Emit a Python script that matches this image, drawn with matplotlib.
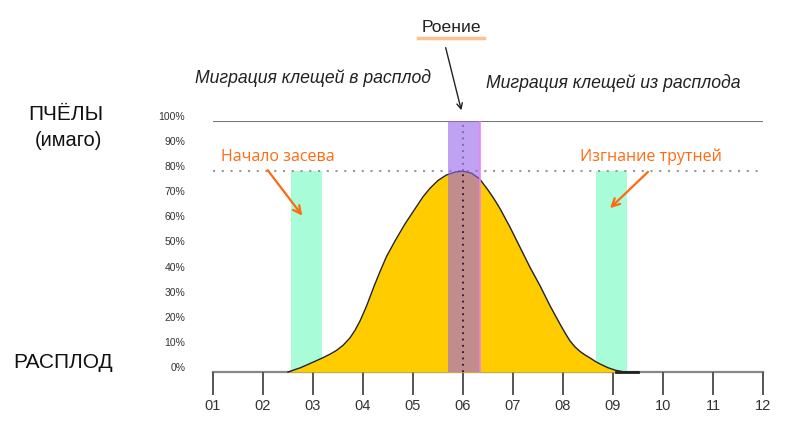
import matplotlib
matplotlib.use("Agg")
import matplotlib.pyplot as plt
import matplotlib.transforms as mtransforms
import numpy as np

# months on the x axis
months = list(range(1, 13))
month_labels = ["01", "02", "03", "04", "05", "06", "07", "08", "09", "10", "11", "12"]
pct_ticks = list(range(0, 101, 10))
pct_labels = [f"{p}%" for p in pct_ticks]

# brood curve
brood_x = [2.5, 2.75, 3.0, 3.2, 3.35, 3.47, 3.6, 3.74, 3.84, 3.94, 4.07, 4.21, 4.34, 4.47,
           4.64, 4.84, 5.04, 5.2, 5.34, 5.5, 5.67, 5.85, 6.0, 6.17, 6.33, 6.5, 6.62, 6.74,
           6.94, 7.14, 7.34, 7.54, 7.74, 7.94, 8.04, 8.14, 8.24, 8.34, 8.44, 8.54, 8.64,
           8.74, 8.9, 9.05, 9.23, 9.5]
brood_y = [0, 1.7, 3.9, 5.7, 7.2, 8.6, 10.6, 13.6, 16.6, 20.3, 26.2, 33.6, 40.0, 46.0,
           52.2, 59.0, 65.0, 69.8, 73.2, 76.3, 78.5, 79.7, 80.0, 79.2, 77.0, 72.5, 69.0, 65.1,
           57.7, 49.7, 41.7, 34.4, 26.4, 19.1, 15.6, 12.4, 10.0, 8.2, 6.8, 5.6, 4.3,
           3.2, 1.7, 0.7, 0, 0]

# highlighted periods (start month, end month)
green_periods = [(2.56, 3.18), (8.65, 9.27)]
green_height = 80
swarm_period = (5.69, 6.35)
swarm_height = 100
peak_level = 80

fig = plt.figure(figsize=(8, 4.43), dpi=100)
ax = fig.add_axes([213 / 800, 71 / 443, 550 / 800, 251 / 443])
ax.set_xlim(1, 12)
ax.set_ylim(0, 100)

for s, e in green_periods:
    ax.bar((s + e) / 2, green_height, width=e - s, color="#a8fcd8", zorder=1)

ax.fill_between(brood_x, brood_y, 0, color="#ffcc00", lw=0, zorder=2)
ax.plot(brood_x, brood_y, color="#222222", lw=1.0, zorder=3, clip_on=False,
        solid_joinstyle="round")
ax.plot([brood_x[-3], brood_x[-1]], [0, 0], color="#222222", lw=2, zorder=3, clip_on=False)

ax.axhline(100, color="#777777", lw=1.5, zorder=2)
ax.axhline(peak_level, color="#999999", lw=1.5, ls=(0, (1, 3.2)), zorder=2)

# swarming band
ax.plot([6, 6], [peak_level, 100], color="#555555", lw=1.3, ls=(0, (1, 2.5)), zorder=4)
ax.bar(sum(swarm_period) / 2, swarm_height, width=swarm_period[1] - swarm_period[0],
       color="#9664ea", alpha=0.6, lw=0, zorder=5)
ax.plot([swarm_period[1] - 0.02] * 2, [0, swarm_height], color="#f080f0", lw=1.5,
        alpha=0.8, zorder=5)
ax.plot([6, 6], [0, peak_level], color="#2a1040", lw=1.3, ls=(0, (1, 2.5)), zorder=6)

# axes styling
for side in ["left", "right", "top"]:
    ax.spines[side].set_visible(False)
ax.spines["bottom"].set_color("#888888")
ax.spines["bottom"].set_linewidth(1.6)
ax.spines["bottom"].set_zorder(1)

ax.set_xticks(months)
ax.set_xticklabels(month_labels, fontsize=10.5, color="#333333", family="Liberation Sans")
ax.tick_params(axis="x", length=16.5, width=1.4, color="#555555", pad=3)

ax.set_yticks(pct_ticks)
ax.set_yticklabels(pct_labels, fontsize=7.5, color="#333333", family="Liberation Sans")
ax.tick_params(axis="y", length=0, pad=20)
shift = mtransforms.ScaledTranslation(0, 5 / 100, fig.dpi_scale_trans)
for lab in ax.get_yticklabels():
    lab.set_transform(lab.get_transform() + shift)


def px(x, y):
    return x / 800, 1 - y / 443


# text labels
fig.text(*px(66, 115), "ПЧЁЛЫ", fontsize=15, ha="center", va="center",
         family="Liberation Sans", color="#111111")
fig.text(*px(68, 140), "(имаго)", fontsize=14.5, ha="center", va="center",
         family="Liberation Sans", color="#111111")
fig.text(*px(63, 362), "РАСПЛОД", fontsize=15, ha="center", va="center",
         family="Liberation Sans", color="#111111")

fig.text(*px(313, 78), "Миграция клещей в расплод", fontsize=12.7, style="italic",
         ha="center", va="center", family="Liberation Sans", color="#222222")
fig.text(*px(613, 83), "Миграция клещей из расплода", fontsize=12.7, style="italic",
         ha="center", va="center", family="Liberation Sans", color="#222222")

fig.text(*px(451, 28), "Роение", fontsize=12.6, ha="center", va="center",
         family="Liberation Sans", color="#222222")
fig.add_artist(plt.Line2D([418 / 800, 484 / 800], [1 - 38 / 443] * 2, color="#ffc090", lw=2.5))

orange = "#ff6a10"
fig.text(*px(278, 157), "Начало засева", fontsize=11.5, ha="center", va="center",
         family="Open Sans", color=orange)
fig.text(*px(651, 157), "Изгнание трутней", fontsize=11.5, ha="center", va="center",
         family="Open Sans", color=orange)

ax.annotate("", xy=(5.98, 103.2), xytext=(5.64, 130.3), annotation_clip=False,
            arrowprops=dict(arrowstyle="->", color="#222222", lw=1.0))
ax.annotate("", xy=(2.82, 61.4), xytext=(2.06, 81.3), annotation_clip=False,
            arrowprops=dict(arrowstyle="->", color=orange, lw=1.6, mutation_scale=14))
ax.annotate("", xy=(8.9, 64.5), xytext=(9.74, 80.5), annotation_clip=False,
            arrowprops=dict(arrowstyle="->", color=orange, lw=1.6, mutation_scale=14))

fig.savefig("out.png", dpi=100)
